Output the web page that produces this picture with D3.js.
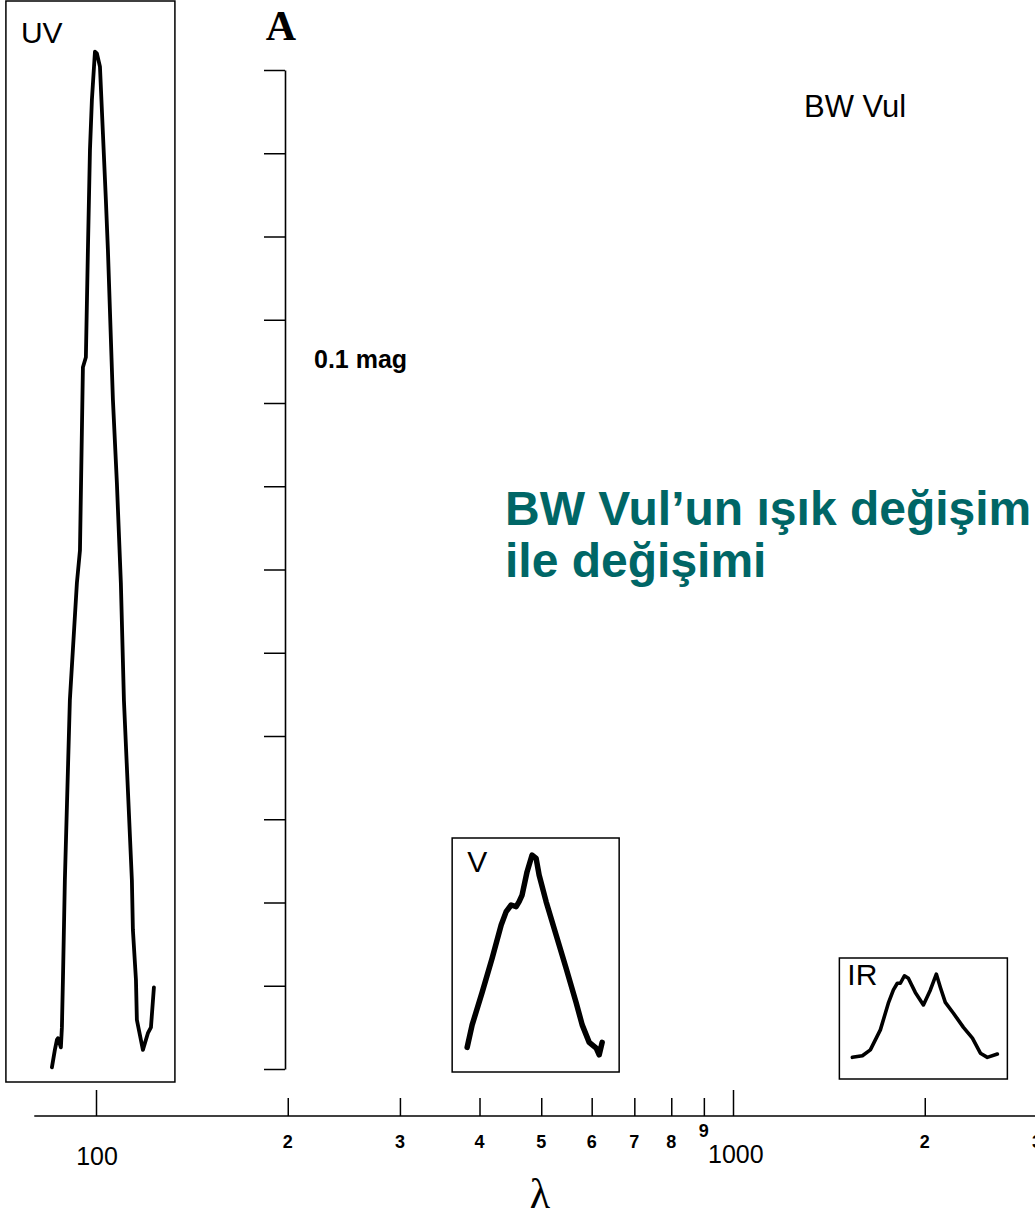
<!DOCTYPE html>
<html>
<head>
<meta charset="utf-8">
<script src="https://cdn.jsdelivr.net/npm/d3@7/dist/d3.min.js"></script>
<style>
  html, body { margin: 0; padding: 0; background: #fff; }
  svg { display: block; }
</style>
</head>
<body>
<svg id="chart" width="1035" height="1216"></svg>
<script>
// Wavelength axis (nm, log scale)
const lambdaTicks = [100, 200, 300, 400, 500, 600, 700, 800, 900, 1000, 2000, 3000];
const lambdaLabels = ["100", "2", "3", "4", "5", "6", "7", "8", "9", "1000", "2", "3"];
const majorTicks = [100, 1000];

// Amplitude axis A (mag), one tick per 0.1 mag
const ampTicks = d3.range(0, 1.2001, 0.1);

// Light curves: phase (0..1) and brightness on the A scale (mag)
const uvPhase = [0, 0.029, 0.049, 0.059, 0.088, 0.098, 0.108, 0.127, 0.176, 0.245, 0.275, 0.304, 0.333, 0.353, 0.373, 0.392, 0.422, 0.441, 0.471, 0.5, 0.529, 0.549, 0.598, 0.637, 0.676, 0.706, 0.784, 0.794, 0.824, 0.833, 0.892, 0.941, 0.971, 1];
const uvMag = [0.002, 0.023, 0.035, 0.037, 0.026, 0.050, 0.107, 0.227, 0.443, 0.584, 0.623, 0.843, 0.855, 0.984, 1.104, 1.164, 1.222, 1.220, 1.204, 1.124, 1.044, 0.984, 0.804, 0.704, 0.584, 0.443, 0.227, 0.167, 0.107, 0.059, 0.023, 0.043, 0.050, 0.098];

const vPhase = [0, 0.037, 0.111, 0.185, 0.252, 0.289, 0.326, 0.363, 0.385, 0.407, 0.444, 0.481, 0.511, 0.533, 0.585, 0.659, 0.733, 0.807, 0.852, 0.904, 0.956, 0.978, 1];
const vMag = [0.026, 0.053, 0.092, 0.133, 0.173, 0.189, 0.197, 0.195, 0.201, 0.209, 0.237, 0.257, 0.253, 0.233, 0.201, 0.161, 0.121, 0.080, 0.053, 0.032, 0.025, 0.017, 0.032];

const irPhase = [0, 0.069, 0.124, 0.193, 0.248, 0.283, 0.310, 0.331, 0.359, 0.386, 0.434, 0.490, 0.538, 0.579, 0.607, 0.641, 0.697, 0.766, 0.828, 0.883, 0.931, 1];
const irMag = [0.014, 0.016, 0.023, 0.047, 0.079, 0.095, 0.103, 0.103, 0.112, 0.109, 0.092, 0.077, 0.095, 0.114, 0.098, 0.080, 0.067, 0.050, 0.037, 0.019, 0.014, 0.018];

// Band names and the wavelength each inset sits over
const bandNames = ["UV", "V", "IR"];
const bandLambda = [98, 490, 1990];

const svg = d3.select("#chart");
const sans = "'Liberation Sans', Arial, Helvetica, sans-serif";
const serif = "'Liberation Serif', 'Times New Roman', serif";

const x = d3.scaleLog().domain([100, 1000]).range([96, 733]);
const y = d3.scaleLinear().domain([0, 1.2]).range([1069, 70]);

// ---- wavelength axis ----
const axisY = 1116;
svg.append("line")
  .attr("x1", x(80)).attr("x2", x(3400))
  .attr("y1", axisY).attr("y2", axisY)
  .attr("stroke", "#000").attr("stroke-width", 1.6);

const xAxis = d3.axisTop(x)
  .tickValues(lambdaTicks)
  .tickFormat("")
  .tickSizeOuter(0)
  .tickSize(18);
const gx = svg.append("g").attr("transform", `translate(0,${axisY})`).call(xAxis);
gx.select(".domain").remove();
gx.selectAll(".tick line")
  .attr("stroke", "#000").attr("stroke-width", 1.5)
  .attr("y2", d => majorTicks.includes(d) ? -26 : -18);

// tick labels
lambdaTicks.forEach((v, i) => {
  const lab = lambdaLabels[i];
  const t = svg.append("text").text(lab).attr("fill", "#000");
  if (v === 100) {
    t.attr("x", x(v) + 1).attr("y", 1165).attr("text-anchor", "middle")
      .attr("font-family", sans).attr("font-size", 25);
  } else if (v === 1000) {
    t.attr("x", x(v) - 25).attr("y", 1163).attr("text-anchor", "start")
      .attr("font-family", sans).attr("font-size", 25);
  } else {
    t.attr("x", x(v)).attr("y", v === 900 ? 1137 : 1148).attr("text-anchor", "middle")
      .attr("font-family", sans).attr("font-weight", "bold").attr("font-size", 18);
  }
});

svg.append("text").text("λ")
  .attr("x", 540).attr("y", 1208).attr("text-anchor", "middle")
  .attr("font-family", serif).attr("font-size", 42).attr("fill", "#000");

// ---- amplitude axis ----
const ampX = 285;
const yAxis = d3.axisLeft(y)
  .tickValues(ampTicks)
  .tickFormat("")
  .tickSize(21)
  .tickSizeOuter(0);
const gy = svg.append("g").attr("transform", `translate(${ampX},0)`).call(yAxis);
gy.select(".domain").attr("stroke", "#000").attr("stroke-width", 1.6);
gy.selectAll(".tick line").attr("stroke", "#000").attr("stroke-width", 1.5);

svg.append("text").text("A")
  .attr("x", 281).attr("y", 40).attr("text-anchor", "middle")
  .attr("font-family", serif).attr("font-weight", "bold").attr("font-size", 42).attr("fill", "#000");

svg.append("text").text("0.1 mag")
  .attr("x", 314).attr("y", 368)
  .attr("font-family", sans).attr("font-weight", "bold").attr("font-size", 25).attr("fill", "#000");

svg.append("text").text("BW Vul")
  .attr("x", 804).attr("y", 117)
  .attr("font-family", sans).attr("font-size", 31).attr("fill", "#000");

// ---- title ----
const title = svg.append("text")
  .attr("font-family", sans).attr("font-weight", "bold").attr("font-size", 48)
  .attr("fill", "#006666");
title.append("tspan").attr("x", 505).attr("y", 525).text("BW Vul’un ışık değişim");
title.append("tspan").attr("x", 505).attr("y", 577).text("ile değişimi");

// ---- light-curve insets ----
const insets = [
  { phase: uvPhase, mag: uvMag, w: 169, top: 1, bottom: 1082, padL: 46, padR: 21, stroke: 3.8, lab: [15, 42] },
  { phase: vPhase,  mag: vMag,  w: 167, top: 838, bottom: 1072, padL: 15, padR: 17, stroke: 5.5, lab: [15, 34] },
  { phase: irPhase, mag: irMag, w: 168, top: 958, bottom: 1079, padL: 13, padR: 10, stroke: 3.6, lab: [8, 27] }
];

const line = d3.line().curve(d3.curveLinear);

insets.forEach((ins, i) => {
  const cx = x(bandLambda[i]);
  const left = cx - ins.w / 2;
  const right = cx + ins.w / 2;
  const g = svg.append("g");
  g.append("rect")
    .attr("x", left).attr("y", ins.top)
    .attr("width", ins.w).attr("height", ins.bottom - ins.top)
    .attr("fill", "none").attr("stroke", "#000").attr("stroke-width", 1.5);

  const px = d3.scaleLinear().domain([0, 1]).range([left + ins.padL, right - ins.padR]);
  const pts = ins.phase.map((p, k) => [px(p), y(ins.mag[k])]);
  g.append("path")
    .attr("d", line(pts))
    .attr("fill", "none").attr("stroke", "#000")
    .attr("stroke-width", ins.stroke)
    .attr("stroke-linejoin", "round").attr("stroke-linecap", "round");

  g.append("text").text(bandNames[i])
    .attr("x", left + ins.lab[0]).attr("y", ins.top + ins.lab[1])
    .attr("font-family", sans).attr("font-size", 30).attr("fill", "#000");
});
</script>
</body>
</html>
